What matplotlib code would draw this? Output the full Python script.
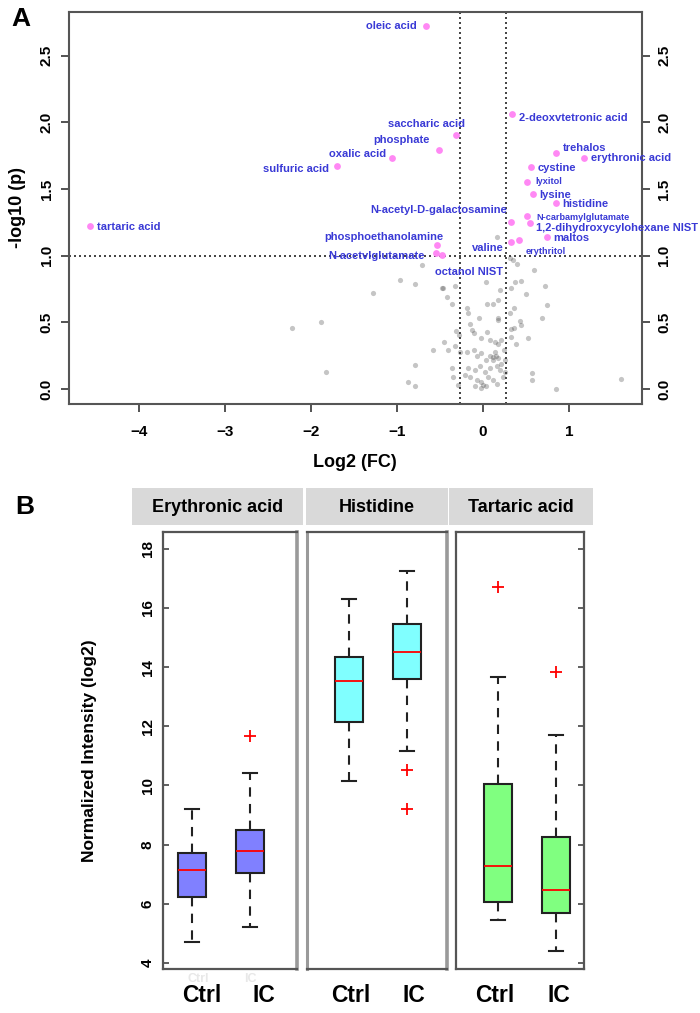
import matplotlib
matplotlib.use("Agg")
import matplotlib.pyplot as plt
from matplotlib.patches import Rectangle

plt.rcParams['font.family'] = ['Liberation Sans', 'DejaVu Sans']

W, H = 700, 1013

# ---------------- panel A : volcano plot ----------------
sig_names = ["oleic acid", "tartaric acid", "sulfuric acid", "oxalic acid", "phosphate",
             "saccharic acid", "N-acetyl-D-galactosamine", "phosphoethanolamine",
             "N-acetvlglutamate", "", "2-deoxvtetronic acid", "trehalos", "erythronic acid",
             "cystine", "lyxitol", "lysine", "histidine", "N-carbamylglutamate",
             "1,2-dihydroxycylohexane NIST", "maltos", "valine", "erythritol"]
sig_fc = [-0.663, -4.57, -1.70, -1.055, -0.508, -0.317, 0.326, -0.535, -0.55, -0.473,
          0.333, 0.849, 1.174, 0.558, 0.516, 0.585, 0.849, 0.516, 0.547, 0.74, 0.326, 0.419]
sig_p = [2.725, 1.223, 1.675, 1.73, 1.79, 1.903, 1.25, 1.08, 1.018, 1.005,
         2.063, 1.773, 1.735, 1.668, 1.553, 1.463, 1.393, 1.298, 1.243, 1.143, 1.105, 1.118]
small_labels = ["lyxitol", "N-carbamylglutamate", "erythritol"]

gray_fc = [-2.22, -1.88, -1.82, -1.28, -0.965, -0.87, 0.163,
           -0.713, -0.79, -0.48, -0.46, -0.42, -0.33, -0.36, 0.03, 0.20, 0.18, 0.05, 0.12,
           0.35, 0.40, 0.33, 0.37, 0.44, 0.50, 0.59, 0.72, 0.75, 0.69, 0.52, 0.36, 0.31,
           0.43, 0.44, 0.36, 0.33, 0.32, 0.38, -0.19, -0.17, -0.15, -0.05, 0.17, 0.18,
           -0.31, -0.28, -0.13, -0.11, -0.02, 0.05, 0.08, 0.14, 0.17, 0.205, -0.45, -0.58,
           -0.41, -0.33, -0.27, -0.19, -0.11, -0.07, -0.02, 0.04, 0.08, 0.12, 0.14, 0.18,
           0.205, 0.24, 0.26, -0.17, -0.09, -0.035, 0.02, 0.08, 0.16, 0.20, -0.36, -0.345,
           -0.21, -0.15, -0.07, -0.02, 0.06, 0.12, 0.16, 0.00, 0.04, -0.09, -0.02, -0.29,
           0.57, 0.57, -0.79, -0.79, 0.85, 0.23, 0.26, 1.61, 0.12, 0.15]
gray_p = [0.46, 0.50, 0.125, 0.72, 0.82, 0.05, 1.143,
          0.93, 0.79, 0.76, 0.76, 0.69, 0.77, 0.64, 0.80, 0.74, 0.67, 0.64, 0.64,
          0.97, 0.94, 0.755, 0.80, 0.81, 0.71, 0.89, 0.77, 0.63, 0.53, 0.38, 0.61, 0.57,
          0.51, 0.48, 0.46, 0.45, 0.39, 0.335, 0.61, 0.57, 0.49, 0.53, 0.53, 0.52,
          0.435, 0.405, 0.44, 0.42, 0.38, 0.43, 0.37, 0.355, 0.34, 0.37, 0.355, 0.29,
          0.29, 0.32, 0.28, 0.28, 0.29, 0.25, 0.27, 0.22, 0.25, 0.24, 0.28, 0.23,
          0.19, 0.29, 0.22, 0.155, 0.14, 0.17, 0.13, 0.155, 0.17, 0.14, 0.155, 0.09,
          0.105, 0.09, 0.07, 0.055, 0.09, 0.07, 0.04, 0.03, 0.02, 0.02, 0.005, 0.03,
          0.12, 0.07, 0.18, 0.02, 0.0, 0.09, 0.13, 0.075, 0.22, 0.25]

note_names = ["octanol NIST"]
note_fc = [0.31]
note_p = [0.98]

fc_cut = 0.263
p_cut = 1.0

# label offsets in pixels (dx, dy) and alignment
label_offsets = {
    "oleic acid": (-9, 0, "right"), "tartaric acid": (7, -1, "left"),
    "sulfuric acid": (-8, -3, "right"), "oxalic acid": (-6, 4, "right"),
    "phosphate": (-10, 10, "right"), "saccharic acid": (9, 11, "right"),
    "N-acetyl-D-galactosamine": (-4, 12, "right"), "phosphoethanolamine": (6, 8, "right"),
    "N-acetvlglutamate": (-11, -3, "right"), "2-deoxvtetronic acid": (7, -4, "left"),
    "trehalos": (7, 5, "left"), "erythronic acid": (7, 0, "left"),
    "cystine": (7, -1, "left"), "lyxitol": (8, 0, "left"), "lysine": (6, -1, "left"),
    "histidine": (6, -1, "left"), "N-carbamylglutamate": (9, -2, "left"),
    "1,2-dihydroxycylohexane NIST": (6, -5, "left"), "maltos": (7, -1, "left"),
    "valine": (-7, -6, "right"), "erythritol": (7, -12, "left"),
    "octanol NIST": (-7, -14, "right"),
}

# ---------------- panel B : box plots ----------------
groups = ["Erythronic acid", "Histidine", "Tartaric acid"]
conditions = ["Ctrl", "IC"]
q1 = [[6.23, 7.05], [12.13, 13.59], [6.05, 5.68]]
med = [[7.14, 7.78], [13.53, 14.52], [7.29, 6.48]]
q3 = [[7.73, 8.49], [14.33, 15.45], [10.05, 8.25]]
whislo = [[4.71, 5.23], [10.16, 11.16], [5.47, 4.42]]
whishi = [[9.21, 10.42], [16.29, 17.25], [13.67, 11.70]]
fliers = [[[], [11.67]], [[], [10.52, 9.19]], [[16.69], [13.82]]]
box_colors = ["#8080ff", "#80ffff", "#80ff80"]


def px_axes(fig, x0, x1, y0, y1):
    return fig.add_axes([x0 / W, (H - y1) / H, (x1 - x0) / W, (y1 - y0) / H])


fig = plt.figure(figsize=(W / 100, H / 100), dpi=100)

######## Panel A ########
axA = px_axes(fig, 69, 642, 12, 404)
axA.scatter(gray_fc + note_fc, gray_p + note_p, s=14, color="#404040", alpha=0.3,
            linewidths=0, zorder=2)
axA.scatter(sig_fc, sig_p, s=24, color="#ff88f4", linewidths=0, zorder=3)
axA.axhline(p_cut, color="#222222", ls=(0, (1.2, 1.8)), lw=1.2, zorder=1)
axA.axvline(-fc_cut, color="#222222", ls=(0, (1.2, 1.8)), lw=1.2, zorder=1)
axA.axvline(fc_cut, color="#222222", ls=(0, (1.2, 1.8)), lw=1.2, zorder=1)

for name, x, y in list(zip(sig_names, sig_fc, sig_p)) + list(zip(note_names, note_fc, note_p)):
    if not name:
        continue
    dx, dy, ha = label_offsets[name]
    fs = 6.6 if name in small_labels else 8
    axA.annotate(name, (x, y), xytext=(dx, dy), textcoords="offset pixels",
                 ha=ha, va="center", fontsize=fs, color="#3a3ad6",
                 fontweight="bold", zorder=4)

axA.set_xlim(-4.814, 1.849)
axA.set_ylim(-0.1125, 2.828)
axA.set_xticks([-4, -3, -2, -1, 0, 1])
axA.set_yticks([0, 0.5, 1.0, 1.5, 2.0, 2.5])
axA.set_yticklabels(["0.0", "0.5", "1.0", "1.5", "2.0", "2.5"])
axA.tick_params(axis="both", direction="out", length=6, width=1.3, color="#444444",
                labelsize=11)
axA.tick_params(axis="x", pad=9)
axA.tick_params(axis="y", right=True, labelright=True, labelrotation=90, pad=5)
for lab in axA.get_xticklabels() + axA.get_yticklabels():
    lab.set_fontweight("bold")
for lab in axA.yaxis.get_ticklabels(which="major"):
    lab.set_va("center")
for s in axA.spines.values():
    s.set_color("#555555")
    s.set_linewidth(1.5)

fig.text(355 / W, 1 - 462 / H, "Log2 (FC)", ha="center", va="center",
         fontsize=13, fontweight="bold")
fig.text(17 / W, 1 - 208 / H, "-log10 (p)", ha="center", va="center",
         fontsize=13, fontweight="bold", rotation=90)
fig.text(21 / W, 1 - 19 / H, "A", ha="center", va="center", fontsize=19, fontweight="bold")

######## Panel B ########
fig.text(24.5 / W, 1 - 507 / H, "B", ha="center", va="center", fontsize=19, fontweight="bold")

panel_px = [(163, 297), (307, 447), (456, 584)]
header_px = [(132, 303), (306, 448), (449, 593)]
xlims = [(0.5, 2.81), (0.276, 2.69), (0.276, 2.48)]
label_pos = [[1.17, 2.24], [1.03, 2.12], [0.95, 2.05]]

for k, grp in enumerate(groups):
    hx0, hx1 = header_px[k]
    fig.add_artist(Rectangle((hx0 / W, 1 - 525 / H), (hx1 - hx0) / W, 37 / H,
                             transform=fig.transFigure, facecolor="#d9d9d9",
                             edgecolor="none"))
    fig.text((hx0 + hx1) / 2 / W, 1 - 507 / H, grp, ha="center", va="center",
             fontsize=13, fontweight="bold")

    ax = px_axes(fig, panel_px[k][0], panel_px[k][1], 532, 969)
    stats = []
    for j in range(len(conditions)):
        stats.append(dict(med=med[k][j], q1=q1[k][j], q3=q3[k][j],
                          whislo=whislo[k][j], whishi=whishi[k][j],
                          fliers=fliers[k][j]))
    ax.bxp(stats, positions=[1, 2], widths=0.48, patch_artist=True, capwidths=0.25,
           boxprops=dict(facecolor=box_colors[k], edgecolor="#222222", linewidth=1.5),
           medianprops=dict(color="red", linewidth=1.3),
           whiskerprops=dict(color="#222222", linewidth=1.5, linestyle=(0, (4.5, 3.5))),
           capprops=dict(color="#222222", linewidth=1.5),
           flierprops=dict(marker="+", markeredgecolor="red", markersize=8,
                           markeredgewidth=1.3, linestyle="none"))
    ax.set_xlim(*xlims[k])
    ax.set_ylim(3.8, 18.56)
    ax.set_xticks(label_pos[k], conditions)
    ax.tick_params(axis="x", length=0, pad=11, labelsize=16.5)
    for lab in ax.get_xticklabels():
        lab.set_fontweight("bold")
    ax.set_yticks([4, 6, 8, 10, 12, 14, 16, 18])
    if k == 0:
        ax.tick_params(axis="y", direction="in", length=4, width=1.2, color="#444444",
                       labelsize=11, labelrotation=90, pad=6)
        for lab in ax.get_yticklabels():
            lab.set_fontweight("bold")
            lab.set_va("center")
        ax.set_ylabel("Normalized Intensity (log2)", fontsize=12.5, fontweight="bold")
        ax.yaxis.set_label_coords((97 - 163) / 134, 0.5)
        # faint duplicate labels under the first panel
        for xp, t in zip([1.1, 2.0], conditions):
            ax.text(xp, 3.45, t, ha="center", va="center", fontsize=9,
                    color="#e8e8e8", fontweight="bold")
    elif k == 2:
        ax.tick_params(axis="y", direction="in", length=4, width=1.2, color="#444444",
                       left=False, right=True, labelleft=False, labelright=False)
    else:
        ax.tick_params(axis="y", left=False, labelleft=False)
    for s in ax.spines.values():
        s.set_color("#555555")
        s.set_linewidth(1.6)
    if k == 0:
        ax.spines["right"].set_color("#9a9a9a")
        ax.spines["right"].set_linewidth(2.6)
    if k == 1:
        ax.spines["left"].set_color("#9a9a9a")
        ax.spines["right"].set_color("#9a9a9a")
        ax.spines["left"].set_linewidth(2.2)
        ax.spines["right"].set_linewidth(2.6)

fig.savefig("out.png", dpi=100)
